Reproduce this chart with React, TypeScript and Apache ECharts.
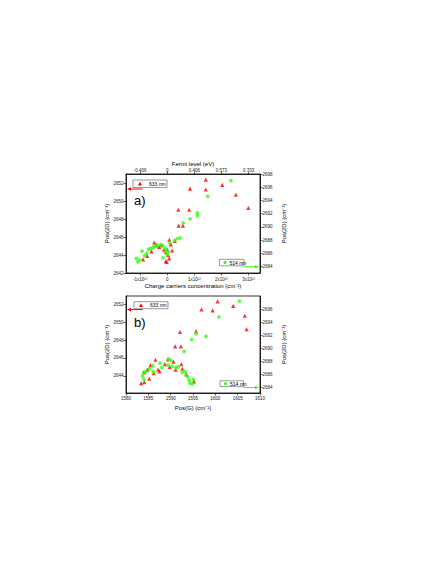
import React, { useEffect, useRef } from "react";
import * as echarts from "echarts";

// Top panel (a): x = charge carrier concentration (units of 1e13 cm^-2)
const concTicks = [-1, 0, 1, 2, 3];
const concLabels = ["-1x10¹³", "0", "1x10¹³", "2x10¹³", "3x10¹³"];
const fermiLabels = ["-0.406", "0", "0.406", "0.573", "0.703"];

// 633 nm, left axis Pos(2D)
const topRed633: [number, number][] = [
  [-0.89, 2643.52], [-0.74, 2643.91], [-0.58, 2644.4], [-0.48, 2645.39], [-0.4, 2645.09],
  [-0.3, 2644.9], [-0.22, 2645.09], [-0.12, 2644.6], [-0.05, 2644.31], [0.0, 2644.6],
  [0.03, 2644.01], [-0.05, 2643.32], [-0.02, 2643.22], [0.07, 2643.62], [0.08, 2645.68],
  [0.13, 2645.19], [0.18, 2644.5], [0.28, 2645.58], [0.42, 2647.26], [0.58, 2647.26],
  [0.41, 2649.03], [0.81, 2649.03], [0.84, 2651.38], [1.42, 2651.28], [1.42, 2652.37],
  [2.03, 2651.79], [2.53, 2650.7], [2.99, 2649.23],
];
// 514 nm, right axis Pos(2D)
const topGreen514: [number, number][] = [
  [-1.14, 2685.2], [-1.08, 2684.7], [-1.02, 2685.0], [-0.93, 2686.3], [-0.83, 2685.6],
  [-0.76, 2686.0], [-0.69, 2686.6], [-0.61, 2686.7], [-0.52, 2686.9], [-0.44, 2687.1],
  [-0.34, 2687.2], [-0.22, 2687.3], [-0.16, 2687.1], [-0.07, 2686.7], [-0.04, 2686.3],
  [0.03, 2686.2], [-0.16, 2685.3], [0.0, 2685.8], [0.09, 2687.6], [0.27, 2687.9],
  [0.37, 2688.2], [0.48, 2688.3], [0.59, 2690.6], [0.84, 2691.2], [1.11, 2692.1],
  [1.11, 2691.7], [1.49, 2694.6], [2.35, 2697.0],
];

// Bottom panel (b): x = Pos(G)
const botRed633: [number, number][] = [
  [1583.4, 2643.2], [1584.1, 2643.3], [1584.0, 2644.4], [1584.8, 2644.7], [1585.2, 2643.7],
  [1585.5, 2645.2], [1586.2, 2644.3], [1586.6, 2645.8], [1587.2, 2644.7], [1587.5, 2644.5],
  [1588.7, 2645.3], [1589.4, 2645.85], [1589.8, 2645.0], [1590.6, 2645.6], [1591.1, 2644.7],
  [1591.0, 2647.3], [1592.1, 2648.9], [1592.3, 2647.3], [1592.4, 2645.3], [1592.6, 2644.8],
  [1593.5, 2644.2], [1595.2, 2643.4], [1595.7, 2649.0], [1596.9, 2651.4], [1599.4, 2651.3],
  [1600.5, 2652.3], [1604.0, 2651.8], [1606.6, 2650.7], [1607.0, 2649.2],
];
const botGreen514: [number, number][] = [
  [1583.7, 2685.7], [1584.0, 2685.2], [1584.0, 2686.3], [1584.5, 2686.4], [1585.3, 2686.8],
  [1586.0, 2687.3], [1586.1, 2686.4], [1587.6, 2687.7], [1588.0, 2687.0], [1589.4, 2687.4],
  [1589.5, 2688.3], [1590.0, 2688.1], [1590.4, 2687.2], [1591.2, 2687.0], [1591.7, 2687.1],
  [1592.6, 2686.3], [1593.2, 2686.4], [1593.5, 2685.8], [1593.8, 2685.6], [1594.1, 2685.1],
  [1594.3, 2684.6], [1594.9, 2684.5], [1595.1, 2685.2], [1593.0, 2689.5], [1594.7, 2691.3],
  [1595.7, 2692.2], [1597.9, 2691.8], [1600.8, 2694.8], [1605.4, 2697.2],
];

const leftTicksA = [2642, 2644, 2646, 2648, 2650, 2652];
const rightTicksA = [2684, 2686, 2688, 2690, 2692, 2694, 2696, 2698];
const leftTicksB = [2644, 2646, 2648, 2650, 2652];
const rightTicksB = [2684, 2686, 2688, 2690, 2692, 2694, 2696];
const posGTicks = [1580, 1585, 1590, 1595, 1600, 1605, 1610];

const FONT = "Liberation Sans, Arial, sans-serif";
const RED = "#ff0000";
const GREEN = "#33ff11";

function axisCommon(ticks: number[], fmt?: (v: number) => string, margin = 2.5) {
  return {
    axisLine: { show: true, onZero: false, lineStyle: { color: "#000", width: 0.8 } },
    axisTick: { show: true, length: 2.5, lineStyle: { color: "#000", width: 0.6 }, customValues: ticks },
    axisLabel: {
      show: true,
      customValues: ticks,
      fontSize: 4.5,
      fontFamily: FONT,
      color: "#222",
      margin,
      formatter: fmt ? (v: number) => fmt(v) : (v: number) => String(v),
    },
    splitLine: { show: false },
  };
}

export default function App() {
  const ref = useRef<HTMLDivElement>(null);
  useEffect(() => {
    document.body.style.margin = "0";
    const chart = echarts.init(ref.current!, null, { renderer: "svg" });
    const nameStyle = { fontSize: 6, fontFamily: FONT, color: "#000", fontWeight: "normal" };
    const option: any = {
      animation: false,
      backgroundColor: "#fff",
      grid: [
        { left: 126, top: 174, width: 134, height: 99, show: true, borderColor: "#000", borderWidth: 0.8 },
        { left: 126, top: 296, width: 134, height: 97, show: true, borderColor: "#000", borderWidth: 0.8 },
      ],
      xAxis: [
        {
          type: "value", gridIndex: 0, position: "bottom", min: -1.52, max: 3.42,
          name: "Charge carriers concentration (cm⁻²)", nameLocation: "middle", nameGap: 10,
          nameTextStyle: nameStyle,
          ...axisCommon(concTicks, (v) => concLabels[concTicks.indexOf(v)] ?? "", 3.5),
        },
        {
          type: "value", gridIndex: 0, position: "top", min: -1.52, max: 3.42,
          name: "Fermi level (eV)", nameLocation: "middle", nameGap: 5.5,
          nameTextStyle: nameStyle,
          ...axisCommon(concTicks, (v) => fermiLabels[concTicks.indexOf(v)] ?? "", 1),
        },
        {
          type: "value", gridIndex: 1, position: "bottom", min: 1580, max: 1610,
          name: "Pos(G) (cm⁻¹)", nameLocation: "middle", nameGap: 12,
          nameTextStyle: nameStyle,
          ...axisCommon(posGTicks, undefined, 3),
        },
      ],
      yAxis: [
        {
          type: "value", gridIndex: 0, position: "left", min: 2642, max: 2653,
          name: "Pos(2D) (cm⁻¹)", nameLocation: "middle", nameGap: 16, nameRotate: 90,
          nameTextStyle: nameStyle,
          ...axisCommon(leftTicksA),
        },
        {
          type: "value", gridIndex: 0, position: "right", min: 2683, max: 2698,
          name: "Pos(2D) (cm⁻¹)", nameLocation: "middle", nameGap: 21, nameRotate: 90,
          nameTextStyle: nameStyle,
          ...axisCommon(rightTicksA),
        },
        {
          type: "value", gridIndex: 1, position: "left", min: 2642.1, max: 2652.9,
          name: "Pos(2D) (cm⁻¹)", nameLocation: "middle", nameGap: 16, nameRotate: 90,
          nameTextStyle: nameStyle,
          ...axisCommon(leftTicksB),
        },
        {
          type: "value", gridIndex: 1, position: "right", min: 2683.1, max: 2698,
          name: "Pos(2D) (cm⁻¹)", nameLocation: "middle", nameGap: 21, nameRotate: 90,
          nameTextStyle: nameStyle,
          ...axisCommon(rightTicksB),
        },
      ],
      series: [
        { name: "633 nm a", type: "scatter", xAxisIndex: 0, yAxisIndex: 0, data: topRed633, symbol: "triangle", symbolSize: 4.2, itemStyle: { color: RED } },
        { name: "514 nm a", type: "scatter", xAxisIndex: 0, yAxisIndex: 1, data: topGreen514, symbol: "circle", symbolSize: 3.8, itemStyle: { color: GREEN } },
        { name: "633 nm b", type: "scatter", xAxisIndex: 2, yAxisIndex: 2, data: botRed633, symbol: "triangle", symbolSize: 4.2, itemStyle: { color: RED } },
        { name: "514 nm b", type: "scatter", xAxisIndex: 2, yAxisIndex: 3, data: botGreen514, symbol: "circle", symbolSize: 3.8, itemStyle: { color: GREEN } },
      ],
      graphic: [
        // panel labels
        { type: "text", left: 134, top: 193.5, style: { text: "a)", font: `13px ${FONT}`, fill: "#000" } },
        { type: "text", left: 134, top: 316, style: { text: "b)", font: `13px ${FONT}`, fill: "#000" } },
        // legend a: 633 nm
        { type: "rect", shape: { x: 133, y: 180, width: 34, height: 7.5 }, style: { fill: "#fff", stroke: "#555", lineWidth: 0.6 } },
        { type: "polygon", shape: { points: [[140, 181.8], [138, 185.4], [142, 185.4]] }, style: { fill: RED } },
        { type: "text", x: 149, y: 183.9, style: { text: "633 nm", font: `5px ${FONT}`, fill: "#000", verticalAlign: "middle" } },
        { type: "line", shape: { x1: 142.5, y1: 189, x2: 130, y2: 189 }, style: { stroke: RED, lineWidth: 1 } },
        { type: "polygon", shape: { points: [[127, 189], [131, 187.2], [131, 190.8]] }, style: { fill: RED } },
        // legend a: 514 nm
        { type: "rect", shape: { x: 219.5, y: 259.3, width: 24.5, height: 6.5 }, style: { fill: "#fff", stroke: "#555", lineWidth: 0.6 } },
        { type: "circle", shape: { cx: 225, cy: 262.5, r: 1.6 }, style: { fill: GREEN } },
        { type: "text", x: 229.5, y: 262.6, style: { text: "514 nm", font: `5px ${FONT}`, fill: "#000", verticalAlign: "middle" } },
        { type: "line", shape: { x1: 244, y1: 266.7, x2: 256, y2: 266.7 }, style: { stroke: GREEN, lineWidth: 1 } },
        { type: "polygon", shape: { points: [[259, 266.7], [255, 264.9], [255, 268.5]] }, style: { fill: GREEN } },
        // legend b: 633 nm
        { type: "rect", shape: { x: 134, y: 301.7, width: 34, height: 7 }, style: { fill: "#fff", stroke: "#555", lineWidth: 0.6 } },
        { type: "polygon", shape: { points: [[141, 303.3], [139, 306.9], [143, 306.9]] }, style: { fill: RED } },
        { type: "text", x: 150, y: 305.3, style: { text: "633 nm", font: `5px ${FONT}`, fill: "#000", verticalAlign: "middle" } },
        { type: "line", shape: { x1: 142.7, y1: 309.6, x2: 130, y2: 309.6 }, style: { stroke: RED, lineWidth: 1 } },
        { type: "polygon", shape: { points: [[127, 309.6], [131, 307.8], [131, 311.4]] }, style: { fill: RED } },
        // legend b: 514 nm
        { type: "rect", shape: { x: 220, y: 380.8, width: 23.5, height: 5.8 }, style: { fill: "#fff", stroke: "#555", lineWidth: 0.6 } },
        { type: "circle", shape: { cx: 225.5, cy: 383.7, r: 1.6 }, style: { fill: GREEN } },
        { type: "text", x: 230, y: 383.8, style: { text: "514 nm", font: `5px ${FONT}`, fill: "#000", verticalAlign: "middle" } },
        { type: "line", shape: { x1: 243.5, y1: 387.5, x2: 256, y2: 387.5 }, style: { stroke: GREEN, lineWidth: 1 } },
        { type: "polygon", shape: { points: [[259, 387.5], [255, 385.7], [255, 389.3]] }, style: { fill: GREEN } },
      ],
    };
    chart.setOption(option);
    return () => chart.dispose();
  }, []);
  return <div ref={ref} style={{ width: 436, height: 564 }} />;
}
